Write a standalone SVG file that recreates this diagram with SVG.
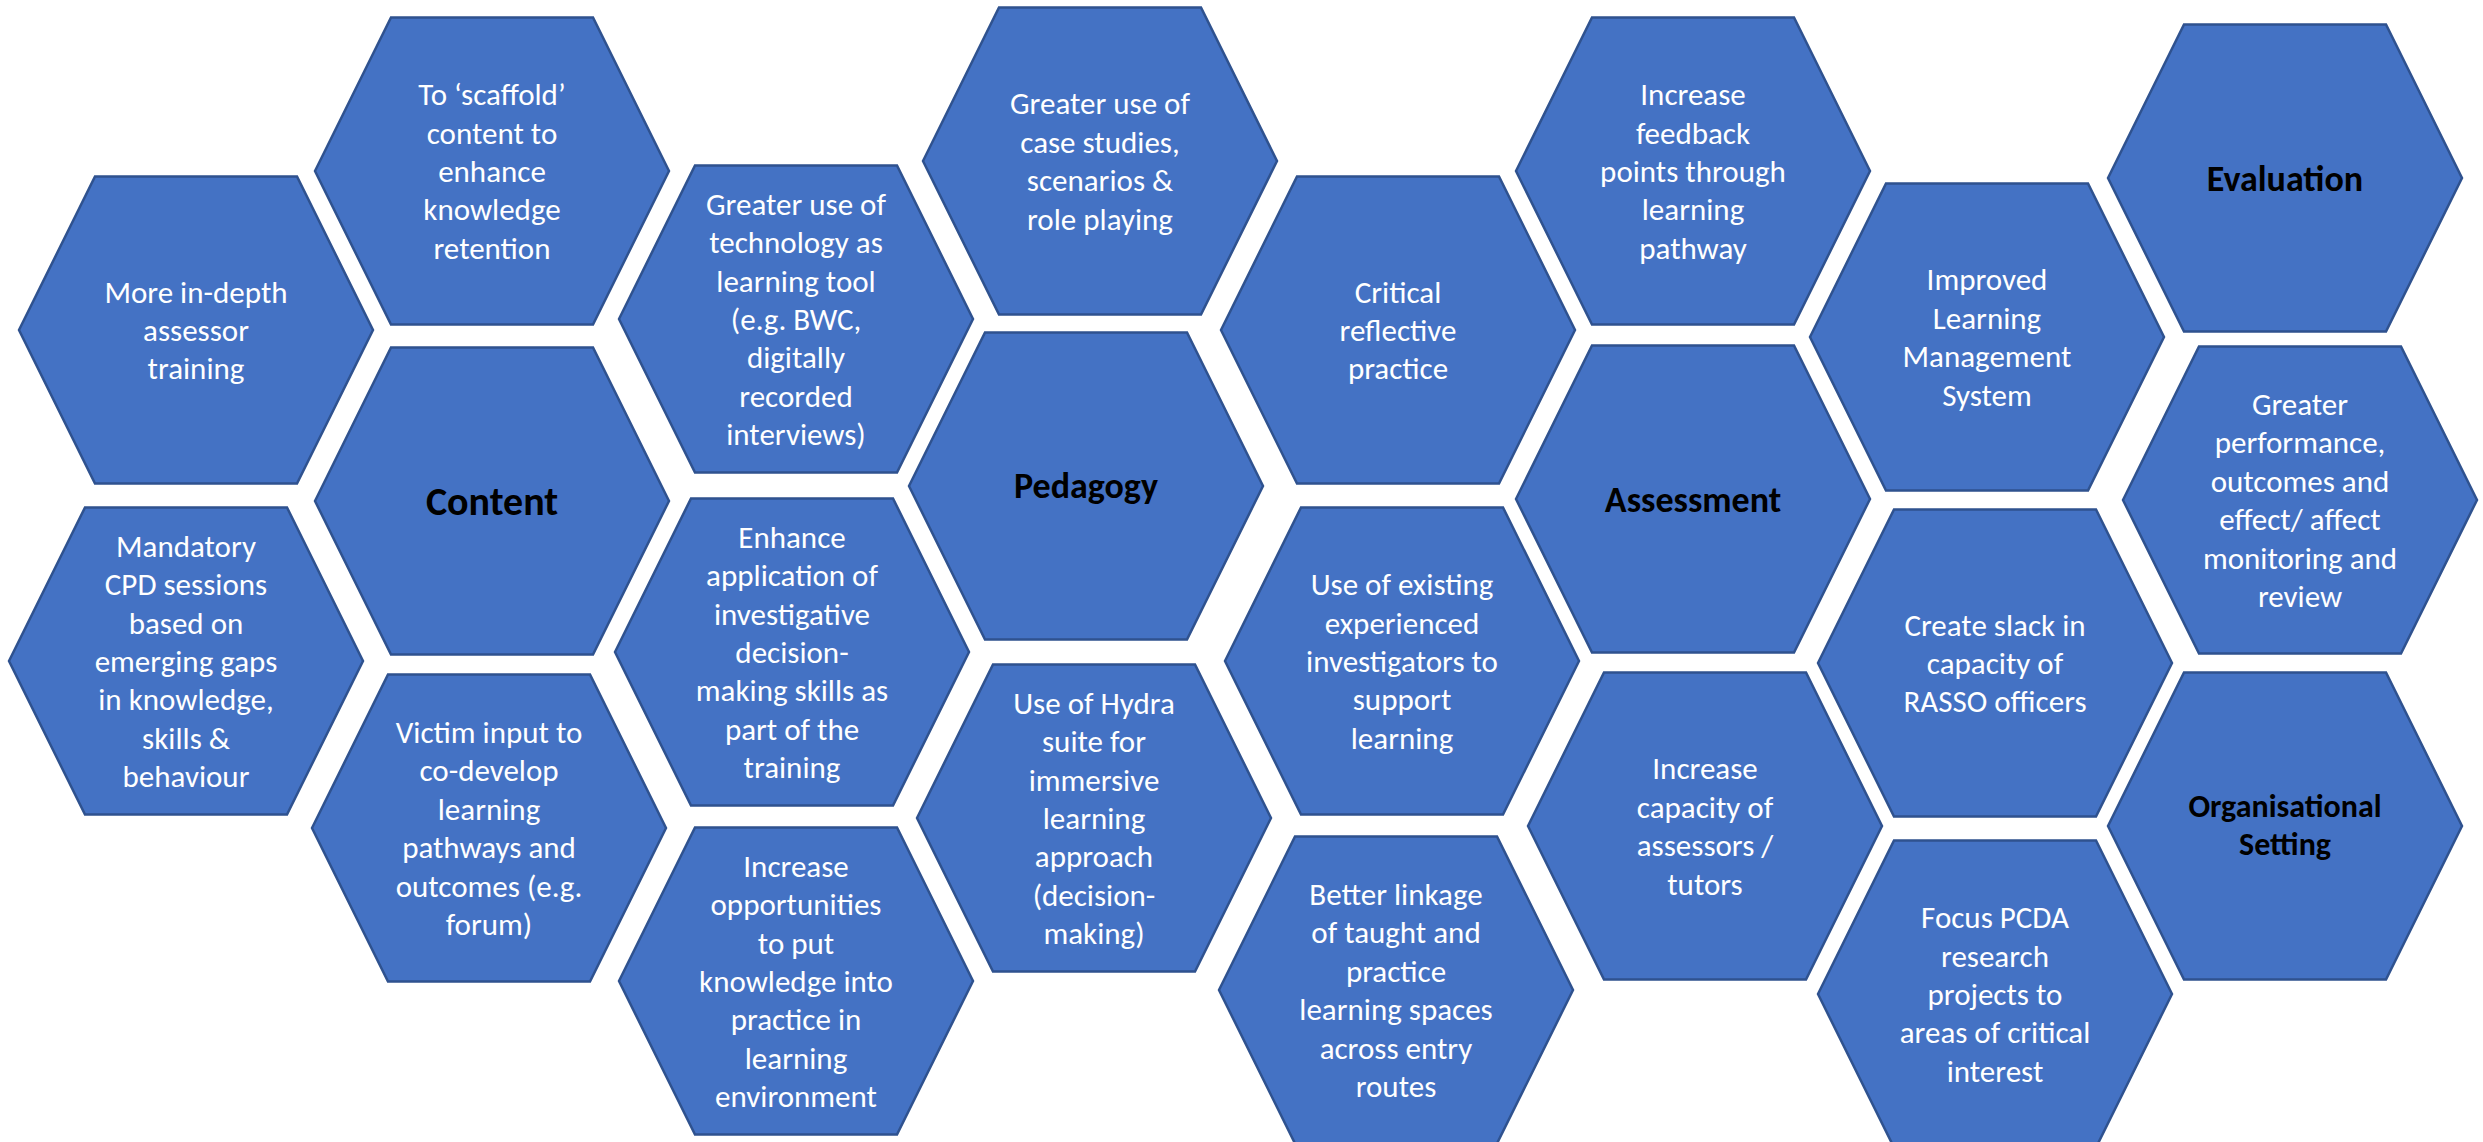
<svg xmlns="http://www.w3.org/2000/svg" xmlns:xlink="http://www.w3.org/1999/xlink" width="2483" height="1142" viewBox="0 0 2483 1142">
  <style>
    .hex { fill: #4472C4; stroke: #2F528F; stroke-width: 2.5; }
    .lbl { font-family: Carlito, Lato, "Liberation Sans", sans-serif; font-size: 31px; fill: #FFFFFF; text-anchor: middle; }
    .ttl { font-family: Carlito, Lato, "Liberation Sans", sans-serif; font-weight: bold; fill: #000000; text-anchor: middle; }
  </style>
  <defs>
    <!-- flat-topped hexagon, 354 wide and 307 tall, centred on the origin -->
    <polygon id="hexShape" points="-177,0 -101,-153.5 101,-153.5 177,0 101,153.5 -101,153.5"/>
  </defs>
  <rect width="2483" height="1142" fill="#FFFFFF"/>

  <!-- no connectors in this layout: the hexagons tile the page -->
  <g id="connectors"/>

  <!-- Content column -->
  <g id="more-in-depth">
    <use xlink:href="#hexShape" class="hex" x="196" y="330"/>
    <text class="lbl" x="196" y="302.6"><tspan x="196">More in-depth</tspan><tspan x="196" dy="38.4">assessor</tspan><tspan x="196" dy="38.4">training</tspan></text>
  </g>
  <g id="scaffold">
    <use xlink:href="#hexShape" class="hex" x="492" y="171"/>
    <text class="lbl" x="492" y="105.2"><tspan x="492">To ‘scaffold’</tspan><tspan x="492" dy="38.4">content to</tspan><tspan x="492" dy="38.4">enhance</tspan><tspan x="492" dy="38.4">knowledge</tspan><tspan x="492" dy="38.4">retention</tspan></text>
  </g>
  <g id="content">
    <use xlink:href="#hexShape" class="hex" x="492" y="501"/>
    <text class="ttl" x="492" y="515" font-size="40">Content</text>
  </g>
  <g id="mandatory-cpd">
    <use xlink:href="#hexShape" class="hex" x="186" y="661"/>
    <text class="lbl" x="186" y="556.8"><tspan x="186">Mandatory</tspan><tspan x="186" dy="38.4">CPD sessions</tspan><tspan x="186" dy="38.4">based on</tspan><tspan x="186" dy="38.4">emerging gaps</tspan><tspan x="186" dy="38.4">in knowledge,</tspan><tspan x="186" dy="38.4">skills &amp;</tspan><tspan x="186" dy="38.4">behaviour</tspan></text>
  </g>
  <g id="victim-input">
    <use xlink:href="#hexShape" class="hex" x="489" y="828"/>
    <text class="lbl" x="489" y="743"><tspan x="489">Victim input to</tspan><tspan x="489" dy="38.4">co-develop</tspan><tspan x="489" dy="38.4">learning</tspan><tspan x="489" dy="38.4">pathways and</tspan><tspan x="489" dy="38.4">outcomes (e.g.</tspan><tspan x="489" dy="38.4">forum)</tspan></text>
  </g>

  <!-- Pedagogy column -->
  <g id="technology">
    <use xlink:href="#hexShape" class="hex" x="796" y="319"/>
    <text class="lbl" x="796" y="214.8"><tspan x="796">Greater use of</tspan><tspan x="796" dy="38.4">technology as</tspan><tspan x="796" dy="38.4">learning tool</tspan><tspan x="796" dy="38.4">(e.g. BWC,</tspan><tspan x="796" dy="38.4">digitally</tspan><tspan x="796" dy="38.4">recorded</tspan><tspan x="796" dy="38.4">interviews)</tspan></text>
  </g>
  <g id="decision-making">
    <use xlink:href="#hexShape" class="hex" x="792" y="652"/>
    <text class="lbl" x="792" y="547.8"><tspan x="792">Enhance</tspan><tspan x="792" dy="38.4">application of</tspan><tspan x="792" dy="38.4">investigative</tspan><tspan x="792" dy="38.4">decision-</tspan><tspan x="792" dy="38.4">making skills as</tspan><tspan x="792" dy="38.4">part of the</tspan><tspan x="792" dy="38.4">training</tspan></text>
  </g>
  <g id="opportunities">
    <use xlink:href="#hexShape" class="hex" x="796" y="981"/>
    <text class="lbl" x="796" y="876.8"><tspan x="796">Increase</tspan><tspan x="796" dy="38.4">opportunities</tspan><tspan x="796" dy="38.4">to put</tspan><tspan x="796" dy="38.4">knowledge into</tspan><tspan x="796" dy="38.4">practice in</tspan><tspan x="796" dy="38.4">learning</tspan><tspan x="796" dy="38.4">environment</tspan></text>
  </g>
  <g id="case-studies">
    <use xlink:href="#hexShape" class="hex" x="1100" y="161"/>
    <text class="lbl" x="1100" y="114.4"><tspan x="1100">Greater use of</tspan><tspan x="1100" dy="38.4">case studies,</tspan><tspan x="1100" dy="38.4">scenarios &amp;</tspan><tspan x="1100" dy="38.4">role playing</tspan></text>
  </g>
  <g id="pedagogy">
    <use xlink:href="#hexShape" class="hex" x="1086" y="486"/>
    <text class="ttl" x="1086" y="498" font-size="36">Pedagogy</text>
  </g>
  <g id="hydra">
    <use xlink:href="#hexShape" class="hex" x="1094" y="818"/>
    <text class="lbl" x="1094" y="713.8"><tspan x="1094">Use of Hydra</tspan><tspan x="1094" dy="38.4">suite for</tspan><tspan x="1094" dy="38.4">immersive</tspan><tspan x="1094" dy="38.4">learning</tspan><tspan x="1094" dy="38.4">approach</tspan><tspan x="1094" dy="38.4">(decision-</tspan><tspan x="1094" dy="38.4">making)</tspan></text>
  </g>

  <!-- Assessment column -->
  <g id="critical-reflective">
    <use xlink:href="#hexShape" class="hex" x="1398" y="330"/>
    <text class="lbl" x="1398" y="302.6"><tspan x="1398">Critical</tspan><tspan x="1398" dy="38.4">reflective</tspan><tspan x="1398" dy="38.4">practice</tspan></text>
  </g>
  <g id="experienced-investigators">
    <use xlink:href="#hexShape" class="hex" x="1402" y="661"/>
    <text class="lbl" x="1402" y="595.2"><tspan x="1402">Use of existing</tspan><tspan x="1402" dy="38.4">experienced</tspan><tspan x="1402" dy="38.4">investigators to</tspan><tspan x="1402" dy="38.4">support</tspan><tspan x="1402" dy="38.4">learning</tspan></text>
  </g>
  <g id="better-linkage">
    <use xlink:href="#hexShape" class="hex" x="1396" y="990"/>
    <text class="lbl" x="1396" y="905"><tspan x="1396">Better linkage</tspan><tspan x="1396" dy="38.4">of taught and</tspan><tspan x="1396" dy="38.4">practice</tspan><tspan x="1396" dy="38.4">learning spaces</tspan><tspan x="1396" dy="38.4">across entry</tspan><tspan x="1396" dy="38.4">routes</tspan></text>
  </g>
  <g id="feedback-points">
    <use xlink:href="#hexShape" class="hex" x="1693" y="171"/>
    <text class="lbl" x="1693" y="105.2"><tspan x="1693">Increase</tspan><tspan x="1693" dy="38.4">feedback</tspan><tspan x="1693" dy="38.4">points through</tspan><tspan x="1693" dy="38.4">learning</tspan><tspan x="1693" dy="38.4">pathway</tspan></text>
  </g>
  <g id="assessment">
    <use xlink:href="#hexShape" class="hex" x="1693" y="499"/>
    <text class="ttl" x="1693" y="511.5" font-size="36">Assessment</text>
  </g>
  <g id="assessor-capacity">
    <use xlink:href="#hexShape" class="hex" x="1705" y="826"/>
    <text class="lbl" x="1705" y="779.4"><tspan x="1705">Increase</tspan><tspan x="1705" dy="38.4">capacity of</tspan><tspan x="1705" dy="38.4">assessors /</tspan><tspan x="1705" dy="38.4">tutors</tspan></text>
  </g>

  <!-- Evaluation and Organisational Setting columns -->
  <g id="lms">
    <use xlink:href="#hexShape" class="hex" x="1987" y="337"/>
    <text class="lbl" x="1987" y="290.4"><tspan x="1987">Improved</tspan><tspan x="1987" dy="38.4">Learning</tspan><tspan x="1987" dy="38.4">Management</tspan><tspan x="1987" dy="38.4">System</tspan></text>
  </g>
  <g id="rasso-slack">
    <use xlink:href="#hexShape" class="hex" x="1995" y="663"/>
    <text class="lbl" x="1995" y="635.6"><tspan x="1995">Create slack in</tspan><tspan x="1995" dy="38.4">capacity of</tspan><tspan x="1995" dy="38.4">RASSO officers</tspan></text>
  </g>
  <g id="pcda-research">
    <use xlink:href="#hexShape" class="hex" x="1995" y="994"/>
    <text class="lbl" x="1995" y="928.2"><tspan x="1995">Focus PCDA</tspan><tspan x="1995" dy="38.4">research</tspan><tspan x="1995" dy="38.4">projects to</tspan><tspan x="1995" dy="38.4">areas of critical</tspan><tspan x="1995" dy="38.4">interest</tspan></text>
  </g>
  <g id="evaluation">
    <use xlink:href="#hexShape" class="hex" x="2285" y="178"/>
    <text class="ttl" x="2285" y="190.5" font-size="36">Evaluation</text>
  </g>
  <g id="performance-monitoring">
    <use xlink:href="#hexShape" class="hex" x="2300" y="500"/>
    <text class="lbl" x="2300" y="415"><tspan x="2300">Greater</tspan><tspan x="2300" dy="38.4">performance,</tspan><tspan x="2300" dy="38.4">outcomes and</tspan><tspan x="2300" dy="38.4">effect/ affect</tspan><tspan x="2300" dy="38.4">monitoring and</tspan><tspan x="2300" dy="38.4">review</tspan></text>
  </g>
  <g id="organisational-setting">
    <use xlink:href="#hexShape" class="hex" x="2285" y="826"/>
    <text class="ttl" x="2285" y="817" font-size="32"><tspan x="2285">Organisational</tspan><tspan x="2285" dy="38.4">Setting</tspan></text>
  </g>
</svg>
